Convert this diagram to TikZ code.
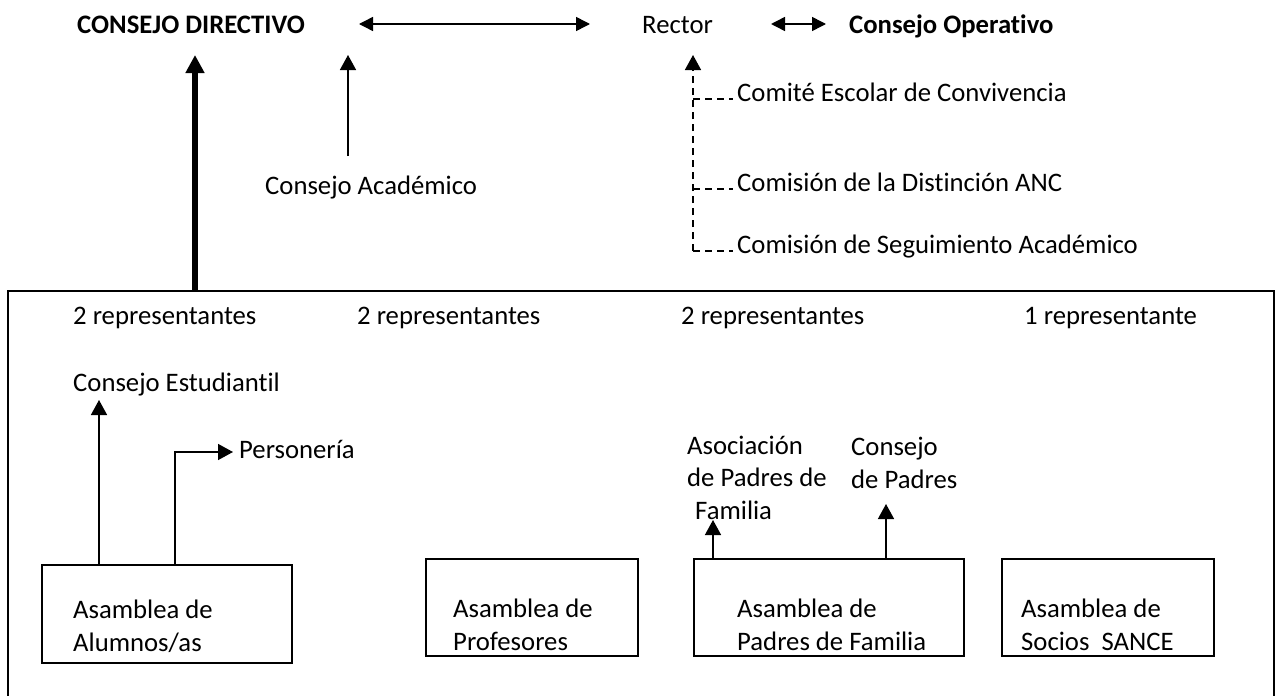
\documentclass[tikz,border=0pt]{standalone}
\usepackage{fontspec}
\setmainfont{Carlito}[Ligatures=NoCommon]
\usetikzlibrary{arrows.meta,calc}
\begin{document}
\begin{tikzpicture}[x=1pt,y=-1pt,
  txt/.style={inner sep=0pt, anchor=base west, align=left, font=\fontsize{26.7}{32.5}\selectfont},
  btxt/.style={txt, font=\fontsize{26.7}{32.5}\selectfont\bfseries},
  box/.style={draw, line width=1.5pt, inner sep=0pt, anchor=north west},
  arr/.style={line width=1.5pt, -{Triangle[width=16pt,length=15pt]}},
  darr/.style={line width=1.5pt, {Triangle[width=14pt,length=14pt]}-{Triangle[width=14pt,length=14pt]}},
  thickarr/.style={line width=5.5pt, -{Triangle[width=18pt,length=18pt]}},
  dsh/.style={line width=1.5pt, dash pattern=on 7pt off 5pt},
]
\useasboundingbox (0,0) rectangle (1275,696);

% top row
\node[btxt] (cd) at (77,33) {CONSEJO DIRECTIVO};
\node[txt] (rector) at (642,33) {Rector};
\node[btxt] (co) at (849,33) {Consejo Operativo};
\coordinate (l1) at (359,24);
\coordinate (l2) at (590,24);
\coordinate (s1) at (771,24);
\coordinate (s2) at (826,24);
\draw[darr] (l1) -- (l2);
\draw[darr] (s1) -- (s2);

% Consejo Academico
\node[txt] (ca) at (265,194) {Consejo Académico};
\coordinate (catip) at (348,55);
\coordinate (cabot) at (348,156);
\draw[arr] (cabot) -- (catip);

% dashed committees
\node[txt] (ce1) at (737,101) {Comité Escolar de Convivencia};
\node[txt] (ce2) at (737,191) {Comisión de la Distinción ANC};
\node[txt] (ce3) at (737,253) {Comisión de Seguimiento Académico};
\coordinate (dtip) at (693,55);
\coordinate (dbot) at (693,251);
\draw[dsh, -{Triangle[width=16pt,length=15pt]}] (dbot) -- (dtip);
\draw[dsh] (693,99) -- ($(ce1.base west)+(-4,-2)$);
\draw[dsh] (693,189) -- ($(ce2.base west)+(-4,-2)$);
\draw[dsh] (dbot) -- ($(ce3.base west)+(-4,-2)$);

% big frame
\node[box, minimum width=1266pt, minimum height=420pt] (frame) at (7,290) {};
\coordinate (ttip) at (195,55);
\draw[thickarr] (frame.north west -| ttip) -- (ttip);

% representatives
\node[txt] (r1) at (73,324) {2 representantes};
\node[txt] (r2) at (357,324) {2 representantes};
\node[txt] (r3) at (681,324) {2 representantes};
\node[txt] (r4) at (1024,324) {1 representante};

% students
\node[txt] (cest) at (73,391) {Consejo Estudiantil};
\node[txt] (pers) at (239,458) {Personería};
\node[box, minimum width=250pt, minimum height=98pt] (alum) at (41,564) {};
\node[txt] (alumt) at (73,651) {Asamblea de\\Alumnos/as};
\coordinate (ce-tip) at (99,400);
\coordinate (pe-elb) at (175,452);
\draw[arr] (alum.north west -| ce-tip) -- (ce-tip);
\draw[arr] (alum.north west -| pe-elb) -- (pe-elb) -- ($(pers.west |- pe-elb)+(-6,0)$);

% teachers
\node[box, minimum width=212pt, minimum height=97pt] (prof) at (425,558) {};
\node[txt] (proft) at (453,650) {Asamblea de\\Profesores};

% parents
\node[txt] (aso) at (687,519) {Asociación\\de Padres de\\\hspace*{8pt}Familia};
\node[txt] (cpad) at (851,488) {Consejo\\de Padres};
\node[box, minimum width=270pt, minimum height=97pt] (padres) at (693,558) {};
\node[txt] (padt) at (737,650) {Asamblea de\\Padres de Familia};
\coordinate (aso-tip) at (713,520);
\coordinate (cp-tip) at (886,504);
\draw[arr] (padres.north west -| aso-tip) -- (aso-tip);
\draw[arr] (padres.north west -| cp-tip) -- (cp-tip);

% SANCE
\node[box, minimum width=212pt, minimum height=97pt] (sance) at (1001,558) {};
\node[txt] (sancet) at (1021,650) {Asamblea de\\Socios\ \ SANCE};
\end{tikzpicture}
\end{document}
